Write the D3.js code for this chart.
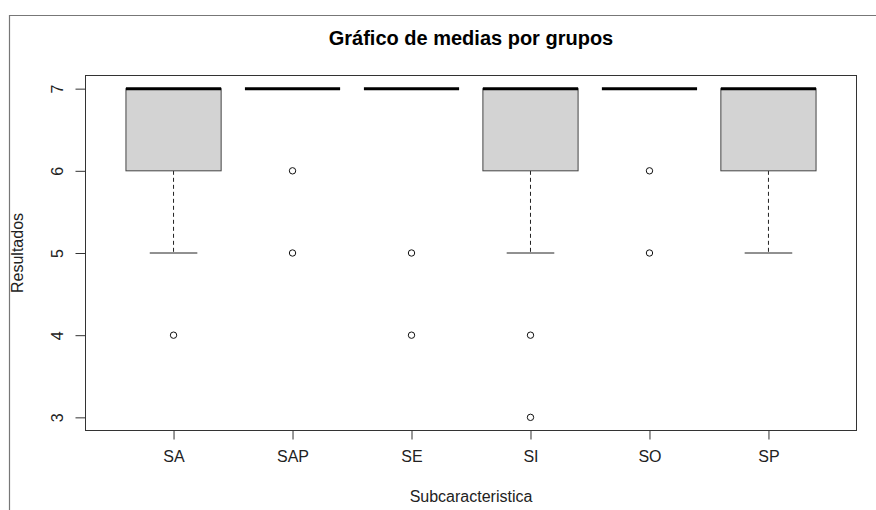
<!DOCTYPE html>
<html><head><meta charset="utf-8">
<script src="https://cdn.jsdelivr.net/npm/d3@7"></script>
<style>
body{margin:0;background:#fff;}
svg{display:block;font-family:"Liberation Sans",Arial,sans-serif;}
</style></head>
<body>
<script>
const categories = ["SA","SAP","SE","SI","SO","SP"];
const q1 =        [6, 7, 7, 6, 7, 6];
const medians =   [7, 7, 7, 7, 7, 7];
const q3 =        [7, 7, 7, 7, 7, 7];
const whiskLow =  [5, 7, 7, 5, 7, 5];
const whiskHigh = [7, 7, 7, 7, 7, 7];
const outliers =  [[4], [6,5], [5,4], [4,3], [6,5], []];
const yTicks = [3,4,5,6,7];
const title = "Gráfico de medias por grupos";
const xTitle = "Subcaracteristica";
const yTitle = "Resultados";

const W = 876, H = 510;
const svg = d3.select("body").append("svg").attr("width", W).attr("height", H);

const plot = {left: 85.5, right: 856.5, top: 75.5, bottom: 430.5};
const n = categories.length;
const x = d3.scaleLinear().domain([0.5 - 0.04*n, n + 0.5 + 0.04*n]).range([plot.left, plot.right]);
const y = d3.scaleLinear().domain([3 - 0.16, 7 + 0.16]).range([plot.bottom, plot.top]);
const unit = x(2) - x(1);
const bw = 0.8 * unit;

svg.append("path").attr("d", `M9.5,${H} V15.5 H${W}`).attr("fill","none").attr("stroke","#777").attr("stroke-width",1.2);

svg.append("text").attr("x", (plot.left+plot.right)/2).attr("y", 45).attr("text-anchor","middle")
  .attr("font-weight","bold").attr("font-size", 20).attr("fill","#000").text(title);

const g = svg.append("g");
categories.forEach((c, i) => {
  const cx = x(i+1);
  g.append("line").attr("x1",cx).attr("x2",cx).attr("y1",y(q1[i])).attr("y2",y(whiskLow[i]))
    .attr("stroke","#222").attr("stroke-dasharray","4,3");
  g.append("line").attr("x1",cx).attr("x2",cx).attr("y1",y(q3[i])).attr("y2",y(whiskHigh[i]))
    .attr("stroke","#222").attr("stroke-dasharray","4,3");
  g.append("line").attr("x1",cx-bw/4).attr("x2",cx+bw/4).attr("y1",y(whiskLow[i])).attr("y2",y(whiskLow[i])).attr("stroke","#222");
  g.append("line").attr("x1",cx-bw/4).attr("x2",cx+bw/4).attr("y1",y(whiskHigh[i])).attr("y2",y(whiskHigh[i])).attr("stroke","#222");
  g.append("rect").attr("x",cx-bw/2).attr("width",bw).attr("y",y(q3[i])).attr("height",y(q1[i])-y(q3[i]))
    .attr("fill","#d3d3d3").attr("stroke","#444").attr("stroke-width",1);
  g.append("line").attr("x1",cx-bw/2).attr("x2",cx+bw/2).attr("y1",y(medians[i])).attr("y2",y(medians[i]))
    .attr("stroke","#000").attr("stroke-width",3);
  outliers[i].forEach(v => {
    g.append("circle").attr("cx",cx).attr("cy",y(v)).attr("r",3.2).attr("fill","#fff").attr("stroke","#111").attr("stroke-width",1);
  });
});

svg.append("rect").attr("x",plot.left).attr("y",plot.top).attr("width",plot.right-plot.left).attr("height",plot.bottom-plot.top)
  .attr("fill","none").attr("stroke","#333").attr("stroke-width",1);

const xa = svg.append("g").attr("transform",`translate(0,${plot.bottom})`)
  .call(d3.axisBottom(x).tickValues(d3.range(1,n+1)).tickFormat(d => categories[d-1]).tickSize(9).tickPadding(11));
xa.select(".domain").remove();
xa.selectAll("line").attr("stroke","#333");
xa.selectAll("text").attr("font-size",16).attr("fill","#222").attr("font-family",null);

const ya = svg.append("g").attr("transform",`translate(${plot.left},0)`)
  .call(d3.axisLeft(y).tickValues(yTicks).tickSize(10).tickFormat(d3.format("d")));
ya.select(".domain").remove();
ya.selectAll("line").attr("stroke","#333");
ya.selectAll("text").attr("font-size",16).attr("fill","#222").attr("font-family",null)
  .attr("text-anchor","middle").attr("dy",null).attr("x",0)
  .attr("transform","translate(-27,0) rotate(-90)").attr("y",0).attr("dominant-baseline","middle");

svg.append("text").attr("x",(plot.left+plot.right)/2).attr("y",502).attr("text-anchor","middle")
  .attr("font-size",16).attr("fill","#222").text(xTitle);
svg.append("text").attr("transform",`translate(23,${(plot.top+plot.bottom)/2}) rotate(-90)`).attr("text-anchor","middle")
  .attr("font-size",16).attr("fill","#222").text(yTitle);
</script>
</body></html>
